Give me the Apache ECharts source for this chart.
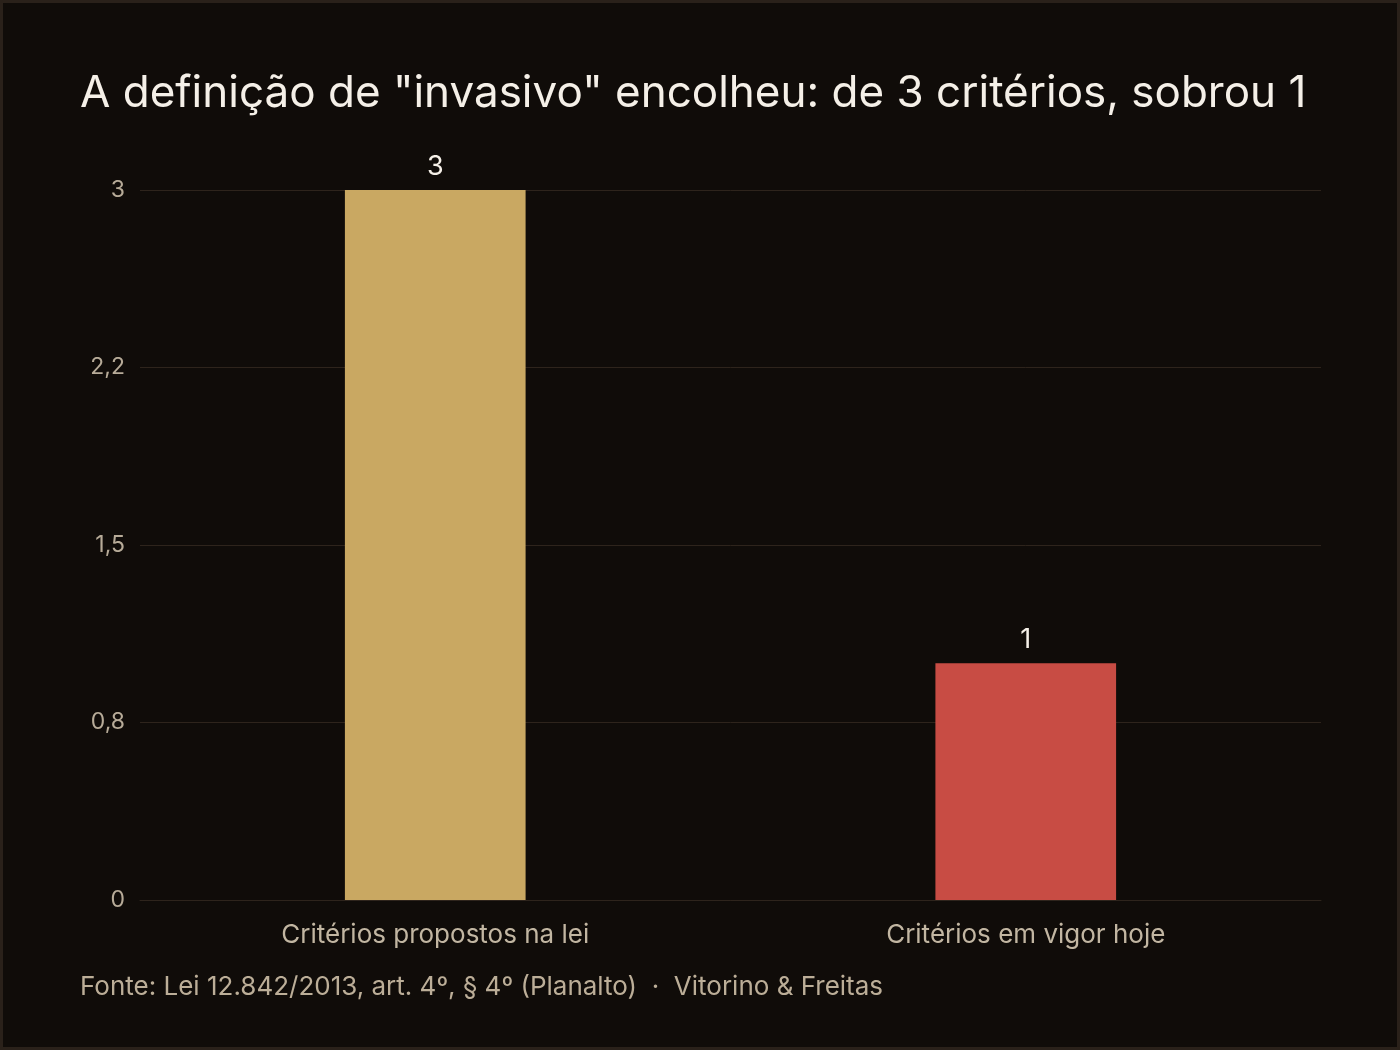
<!DOCTYPE html>
<html>
<head>
<meta charset="utf-8">
<script src="https://cdn.jsdelivr.net/npm/echarts@6/dist/echarts.min.js"></script>
<style>
html,body{margin:0;padding:0;background:#100c09;}
#wrap{position:absolute;left:0;top:0;width:1400px;height:1050px;box-sizing:border-box;border:3px solid #2a211a;background:#100c09;}
#chart{width:100%;height:100%;}
</style>
</head>
<body>
<div id="wrap"><div id="chart"></div></div>
<script>
const categories = ['Critérios propostos na lei', 'Critérios em vigor hoje'];
const values = [3, 1];
const barColors = ['#c9a862', '#c84c44'];
const tickValues = [0, 0.75, 1.5, 2.25, 3];
const tickLabels = ['0', '0,8', '1,5', '2,2', '3'];
const titleText = 'A definição de "invasivo" encolheu: de 3 critérios, sobrou 1';
const footerText = 'Fonte: Lei 12.842/2013, art. 4º, § 4º (Planalto)  ·  Vitorino & Freitas';

const FONT = 'Inter, "Noto Sans", sans-serif';
const chart = echarts.init(document.getElementById('chart'), null, {renderer: 'canvas'});
chart.setOption({
  backgroundColor: '#100c09',
  animation: false,
  title: {
    text: titleText,
    left: 72, top: 64,
    textStyle: {color: '#f5f0e8', fontSize: 44, fontWeight: 'normal', fontFamily: FONT}
  },
  graphic: [{
    type: 'text', left: 77, top: 971,
    style: {text: footerText, fill: '#bcae98', fontSize: 26, fontFamily: FONT}
  }],
  grid: {left: 137, right: 76, top: 187, bottom: 147, containLabel: false},
  xAxis: {
    type: 'category',
    data: categories,
    axisLine: {show: true, lineStyle: {color: '#2e241c', width: 1}},
    axisTick: {show: false},
    axisLabel: {color: '#c2b6a2', fontSize: 26, fontFamily: FONT, margin: 22}
  },
  yAxis: {
    type: 'value',
    min: 0, max: 3, interval: 0.75,
    axisLine: {show: false},
    axisTick: {show: false},
    splitLine: {lineStyle: {color: '#2e241c', width: 1}},
    axisLabel: {
      color: '#b7ab98', fontSize: 23, fontFamily: FONT, margin: 15,
      padding: [4, 0, 0, 0],
      formatter: function (v) {
        const i = tickValues.findIndex(t => Math.abs(t - v) < 1e-9);
        return i >= 0 ? tickLabels[i] : '';
      }
    }
  },
  series: [{
    type: 'bar',
    barWidth: '30.6%',
    data: values.map((v, i) => ({value: v, itemStyle: {color: barColors[i]}})),
    label: {
      show: true, position: 'top', distance: 10,
      color: '#f5f0e8', fontSize: 27, fontFamily: FONT
    }
  }]
});
</script>
</body>
</html>
